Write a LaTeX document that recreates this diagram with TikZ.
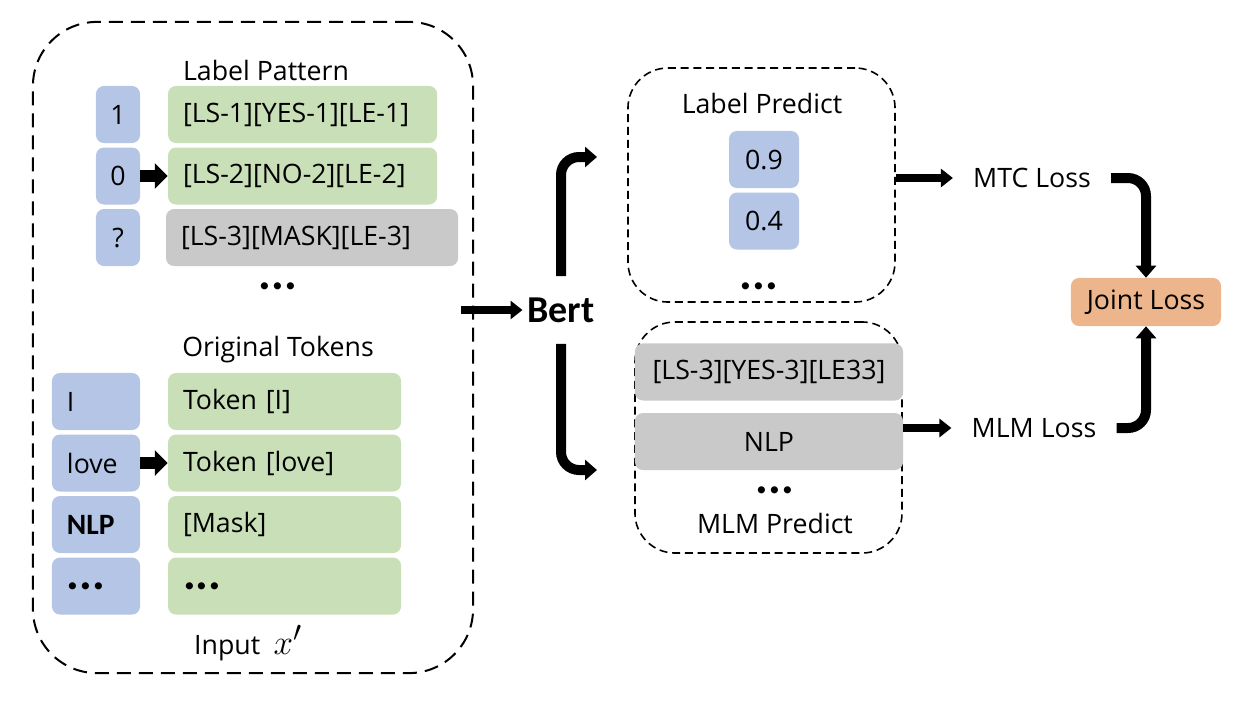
\documentclass[tikz,border=0pt]{standalone}
\usepackage{fontspec}
\setmainfont{Open Sans}
\newfontfamily\calib{Carlito}
\usetikzlibrary{positioning,arrows.meta}
\definecolor{cellblue}{HTML}{B4C5E6}
\definecolor{cellgreen}{HTML}{C9DFB8}
\definecolor{cellgrey}{HTML}{C9C9C9}
\definecolor{cellorange}{HTML}{EDB58C}
\newcommand{\moredots}{{\calib\bfseries\fontsize{34}{36}\selectfont...}}

\begin{document}
\begin{tikzpicture}[x=0.025cm,y=-0.025cm,font=\fontsize{19}{22}\selectfont]
    \tikzstyle{cell}=[rounded corners=0.2cm, minimum height=1.425cm, inner xsep=0.375cm, on grid, node distance=1.5375cm]
    \tikzstyle{num}=[cell, fill=cellblue, minimum width=1.1cm, inner xsep=0pt]
    \tikzstyle{word}=[cell, fill=cellblue, text width=1.45cm, align=left]
    \tikzstyle{pat}=[cell, fill=cellgreen, text width=5.975cm, align=left]
    \tikzstyle{tok}=[cell, fill=cellgreen, text width=5.075cm, align=left]
    \tikzstyle{mask}=[cell, fill=cellgrey]
    \tikzstyle{ellip}=[inner sep=0pt]
    \tikzstyle{frame}=[draw, line width=0.05cm, dash pattern=on 0.35cm off 0.2cm, rounded corners=1.6cm]
    \tikzstyle{group}=[draw, line width=0.04cm, dash pattern=on 0.2cm off 0.12cm, rounded corners=1cm, minimum width=6.675cm]
    \tikzstyle{loss}=[inner xsep=0.5cm]
    \tikzstyle{smallarrow}=[line width=0.3cm, -{Triangle[length=0.32cm,width=0.62cm]}]
    \tikzstyle{flowarrow}=[line width=0.2cm, -{Triangle[length=0.3cm,width=0.45cm]}]
    \tikzstyle{bendarrow}=[line width=0.25cm, rounded corners=0.45cm, -{Triangle[length=0.3cm,width=0.5cm]}]

    \useasboundingbox (0,0) rectangle (1236,710);

    \node[frame, minimum width=11cm, minimum height=16.275cm] (input) at (253,347.5) {};
    \node (pattern) at (266,70) {Label Pattern};
    \node[num] (n1) at (118,114.5) {1};
    \node[num,below=of n1] (n2) {0};
    \node[num,below=of n2] (n3) {?};
    \node[pat,right=4.6125cm of n1] (g1) {[LS-1][YES-1][LE-1]};
    \node[pat,right=4.6125cm of n2] (g2) {[LS-2][NO-2][LE-2]};
    \node[mask,right=4.85cm of n3, text width=6.55cm, align=left] (g3) {[LS-3][MASK][LE-3]};
    \node[ellip] (dots1) at (278,286) {\moredots};

    \node (tokens) at (278,350) {Original Tokens};
    \node[word] (w1) at (96,401.5) {I};
    \node[word,below=of w1] (w2) {love};
    \node[word,below=of w2] (w3) {{\calib\bfseries\fontsize{21}{24}\selectfont NLP}};
    \node[word,below=of w3] (w4) {\moredots};
    \node[tok,right=4.7125cm of w1] (t1) {Token [I]};
    \node[tok,right=4.7125cm of w2] (t2) {Token [love]};
    \node[tok,right=4.7125cm of w3] (t3) {[Mask]};
    \node[tok,right=4.7125cm of w4] (t4) {\moredots};
    \node (inputlabel) at (248,643) {Input\enspace{\fontsize{30}{32}\selectfont$x'$}};

    \node[font=\calib\bfseries\fontsize{27}{30}\selectfont, minimum height=1.675cm] (bert) at (561,310) {Bert};

    \node[group, minimum height=5.85cm] (lp) at (761.5,185) {};
    \node (lptitle) at (762,103) {Label Predict};
    \node[num, minimum width=1.75cm] (p1) at (764,159.5) {0.9};
    \node[num, minimum width=1.75cm, below=of p1] (p2) {0.4};
    \node[ellip] (dots2) at (759,286) {\moredots};

    \node[group, minimum height=5.775cm] (mlm) at (768.5,437.5) {};
    \node[mask, minimum width=6.7cm] (m1) at (769,372) {[LS-3][YES-3][LE33]};
    \node[mask, minimum width=6.7cm, below=1.7375cm of m1] (m2) {NLP};
    \node[ellip] (dots3) at (775,490) {\moredots};
    \node (mlmtitle) at (775,523) {MLM Predict};

    \node[loss] (mtc) at (1032,178) {MTC Loss};
    \node[loss] (mlmloss) at (1034,428) {MLM Loss};
    \node[fill=cellorange, rounded corners=0.2cm, minimum width=3.75cm, minimum height=1.2cm] (joint) at (1146,302) {Joint Loss};

    \coordinate (lpin) at (597,157);
    \coordinate (mlmin) at (597,470);

    \draw[smallarrow] (n2.east) -- (g2.west);
    \draw[smallarrow] (w2.east) -- (t2.west);
    \draw[flowarrow, shorten <=-0.325cm] (input.east |- bert.west) -- (bert.west);
    \draw[bendarrow] (bert.north) |- (lpin);
    \draw[bendarrow] (bert.south) |- (mlmin);
    \draw[flowarrow] (lp.east |- mtc.west) -- (mtc.west);
    \draw[flowarrow] (mlm.east |- mlmloss.west) -- (mlmloss.west);
    \draw[bendarrow] (mtc.east) -| (joint.north);
    \draw[bendarrow] (mlmloss.east) -| (joint.south);
\end{tikzpicture}
\end{document}
